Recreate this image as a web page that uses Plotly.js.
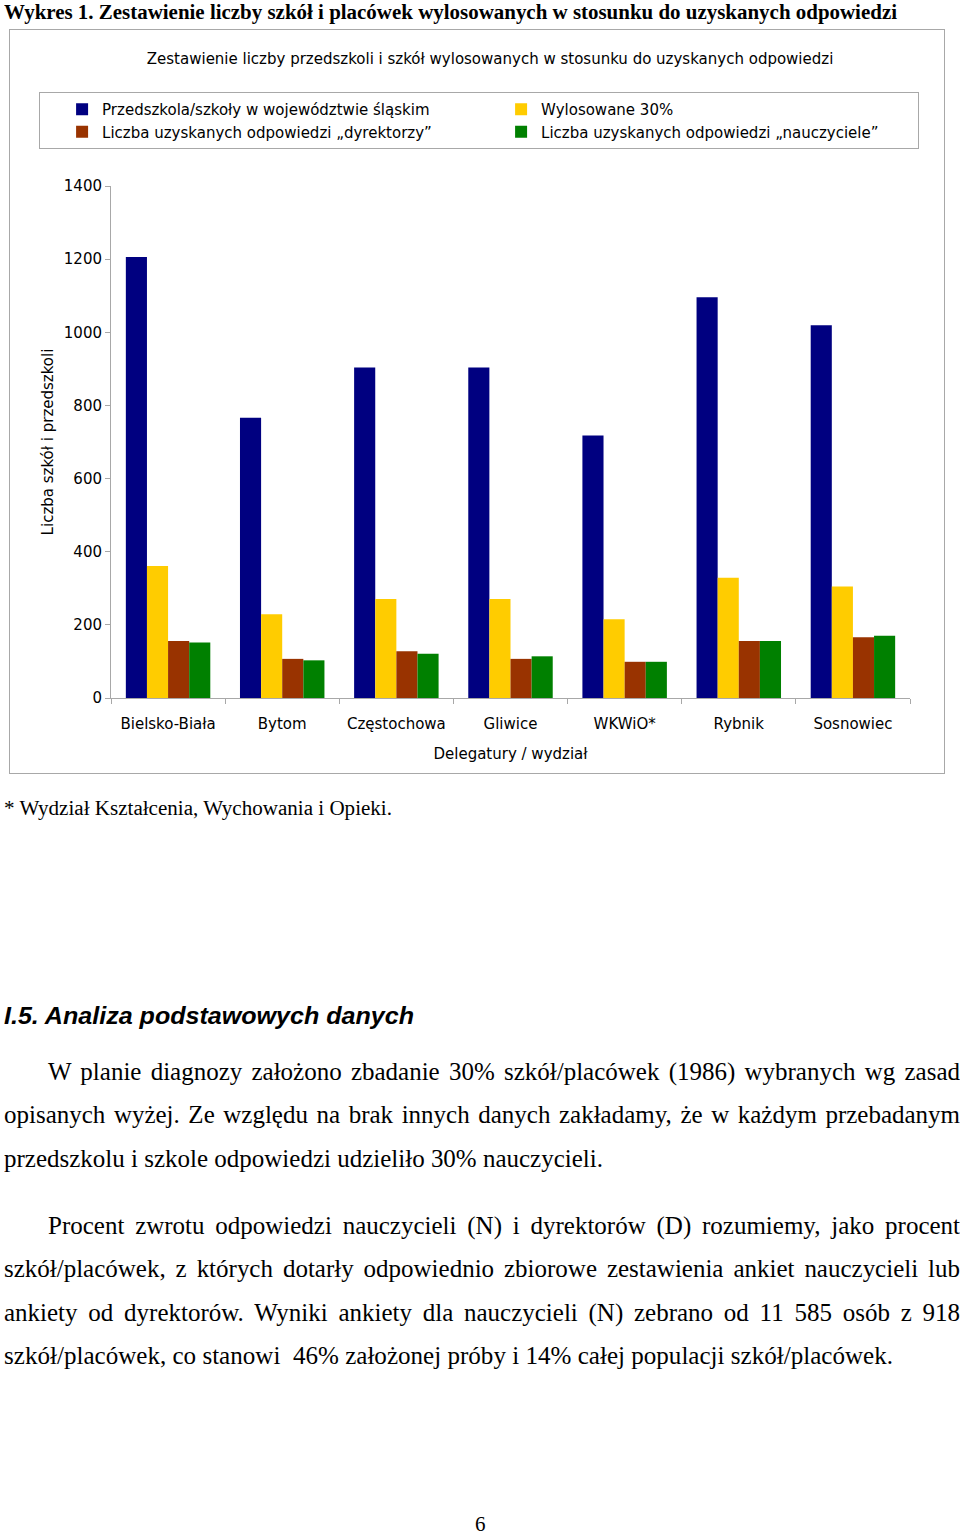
<!DOCTYPE html>
<html>
<head>
<meta charset="utf-8">
<script src="https://cdn.plot.ly/plotly-3.0.1.min.js"></script>
<style>
  html, body { margin:0; padding:0; background:#fff; }
  body { width:960px; height:1534px; position:relative; overflow:hidden; font-family:"Liberation Serif", "Times New Roman", serif; color:#000; }
  .abs { position:absolute; white-space:nowrap; }
  .fit { display:inline-block; transform-origin:0 50%; }
  #hdr { left:4px; top:0px; font-size:20px; font-weight:bold; line-height:24px; }
  #frame { position:absolute; left:9px; top:29px; width:934px; height:743px; border:1px solid #a8a8a8; }
  #chart { width:934px; height:743px; }
  #foot { left:4px; top:796px; font-size:20px; line-height:24px; }
  #h2 { left:4px; top:1001px; font-family:"Liberation Sans", Arial, sans-serif; font-weight:bold; font-style:italic; font-size:24px; line-height:30px; }
  .para { position:absolute; left:4px; width:956px; font-size:23px; }
  .ln { height:43.4px; line-height:43.4px; white-space:nowrap; }
  .j { text-align:justify; text-align-last:justify; }
  .ind { padding-left:44px; }
  #pg { left:475px; top:1512px; font-size:21px; line-height:24px; }
</style>
</head>
<body>
<div id="hdr" class="abs"><span class="fit" data-w="893">Wykres 1. Zestawienie liczby szkół i placówek wylosowanych w stosunku do uzyskanych odpowiedzi</span></div>

<div id="frame"><div id="chart"></div></div>

<div id="foot" class="abs"><span class="fit" data-w="388">* Wydział Kształcenia, Wychowania i Opieki.</span></div>

<div id="h2" class="abs"><span class="fit" data-w="410">I.5. Analiza podstawowych danych</span></div>

<div class="para" style="top:1050px;">
  <div class="ln j ind">W planie diagnozy założono zbadanie 30% szkół/placówek (1986) wybranych wg zasad</div>
  <div class="ln j">opisanych wyżej. Ze względu na brak innych danych zakładamy, że w każdym przebadanym</div>
  <div class="ln"><span id="probe" class="fit" data-w="599">przedszkolu i szkole odpowiedzi udzieliło 30% nauczycieli.</span></div>
</div>

<div class="para" style="top:1204px;">
  <div class="ln j ind">Procent zwrotu odpowiedzi nauczycieli (N) i dyrektorów (D) rozumiemy, jako procent</div>
  <div class="ln j">szkół/placówek, z których dotarły odpowiednio zbiorowe zestawienia ankiet nauczycieli lub</div>
  <div class="ln j">ankiety od dyrektorów. Wyniki ankiety dla nauczycieli (N) zebrano od 11 585 osób z 918</div>
  <div class="ln"><span class="fit" data-w="889">szkół/placówek, co stanowi&nbsp; 46% założonej próby i 14% całej populacji szkół/placówek.</span></div>
</div>

<div id="pg" class="abs">6</div>

<script>
// ---- data ----
var categories = ["Bielsko-Biała", "Bytom", "Częstochowa", "Gliwice", "WKWiO*", "Rybnik", "Sosnowiec"];
var seriesNames = ["Przedszkola/szkoły w województwie śląskim", "Wylosowane 30%", "Liczba uzyskanych odpowiedzi „dyrektorzy”", "Liczba uzyskanych odpowiedzi „nauczyciele”"];
var allSchools   = [1206, 766, 904, 904, 718, 1096, 1019];
var drawn30      = [361, 229, 271, 271, 215, 329, 305];
var directors    = [156, 107, 128, 107, 99, 156, 166];
var teachers     = [152, 103, 121, 114, 99, 156, 170];
var yTicks       = [0, 200, 400, 600, 800, 1000, 1200, 1400];
var colors = ["#000080", "#FFCC00", "#993300", "#008000"];

// size the body text so its natural width matches the page, then fit single lines
var probe = document.getElementById('probe');
var pw = probe.getBoundingClientRect().width;
if (pw > 0) {
  var fs = 23 * 599 / pw;
  document.querySelectorAll('.para').forEach(function(p){ p.style.fontSize = fs + 'px'; });
}
document.querySelectorAll('.fit').forEach(function(el){
  el.style.transform = 'none';
  var w = el.getBoundingClientRect().width;
  var t = parseFloat(el.getAttribute('data-w'));
  if (w > 0) el.style.transform = 'scaleX(' + (t / w) + ')';
});

var font = "DejaVu Sans, Verdana, sans-serif";
var values = [allSchools, drawn30, directors, teachers];
var traces = values.map(function(v, i){
  return { type:'bar', x:categories, y:v, name:seriesNames[i],
           marker:{ color:colors[i], line:{width:0} }, hoverinfo:'x+y' };
});

var layout = {
  width:934, height:743,
  margin:{ l:101, r:34, t:156, b:75 },
  paper_bgcolor:'#fff', plot_bgcolor:'#fff',
  font:{ family:font, size:15, color:'#000' },
  barmode:'group', bargap:0.26, bargroupgap:0,
  title:{ text:'Zestawienie liczby przedszkoli i szkół wylosowanych w stosunku do uzyskanych odpowiedzi',
          font:{ family:font, size:15, color:'#000' },
          xref:'container', x:0.514, xanchor:'center', yref:'container', y:0.961, yanchor:'middle' },
  showlegend:true,
  legend:{ orientation:'h', x:-0.09, xanchor:'left', y:1.1836, yanchor:'top',
           entrywidth:372, entrywidthmode:'pixels', indentation:22,
           bgcolor:'#fff', bordercolor:'#a8a8a8', borderwidth:1,
           font:{ family:font, size:15, color:'#000' }, traceorder:'normal' },
  xaxis:{ type:'category', showline:true, linecolor:'#a8a8a8', linewidth:1,
          ticks:'outside', tickson:'boundaries', ticklen:5, tickcolor:'#a8a8a8',
          showgrid:false, zeroline:false, ticklabelstandoff:12,
          tickfont:{ family:font, size:15, color:'#000' },
          title:{ text:'Delegatury / wydział', font:{ family:font, size:15, color:'#000' }, standoff:16 } },
  yaxis:{ range:[0,1400], tickvals:yTicks, ticktext:yTicks.map(String),
          showline:true, linecolor:'#a8a8a8', linewidth:1,
          ticks:'outside', ticklen:5, tickcolor:'#a8a8a8',
          showgrid:false, zeroline:false,
          tickfont:{ family:font, size:15, color:'#000' },
          title:{ text:'Liczba szkół i przedszkoli', font:{ family:font, size:15, color:'#000' }, standoff:6 } }
};

Plotly.newPlot('chart', traces, layout, { displayModeBar:false, staticPlot:true });
</script>
</body>
</html>
